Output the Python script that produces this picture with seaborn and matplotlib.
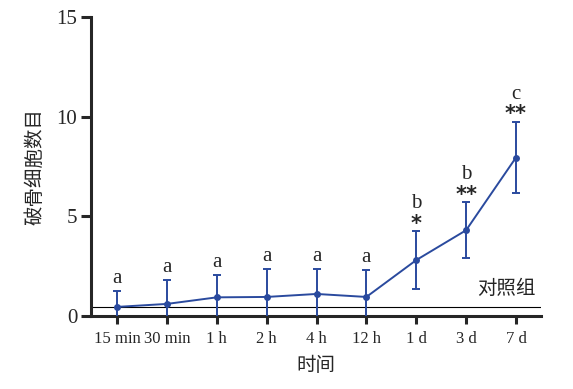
import matplotlib
matplotlib.use("Agg")
import matplotlib.pyplot as plt
import seaborn as sns
import pandas as pd
import numpy as np

# data
time_labels = ["15 min", "30 min", "1 h", "2 h", "4 h", "12 h", "1 d", "3 d", "7 d"]
mean_counts = [0.45, 0.6, 0.93, 0.95, 1.1, 0.95, 2.8, 4.3, 7.95]
sd_counts = [0.8, 1.2, 1.1, 1.4, 1.25, 1.35, 1.45, 1.4, 1.8]
letters = ["a", "a", "a", "a", "a", "a", "b", "b", "c"]
stars = ["", "", "", "", "", "", "*", "**", "**"]
control_level = 0.45

sns.set_theme(style="ticks")
plt.rcParams['font.family'] = ['Liberation Serif', 'Noto Sans CJK SC']
plt.rcParams['axes.linewidth'] = 2.2

df = pd.DataFrame({"pos": np.arange(len(time_labels)), "mean": mean_counts, "sd": sd_counts})
blue = "#2a4a9e"
cjk = ['Noto Sans CJK SC']

fig = plt.figure(figsize=(5.73, 3.89), dpi=100)
ax = fig.add_axes([0.159, 0.188, 0.785, 0.768])

ax.axhline(control_level, color="black", lw=0.8, zorder=1)
sns.lineplot(data=df, x="pos", y="mean", color=blue, lw=1.4, marker="o",
             markersize=5, markeredgewidth=0, ax=ax, zorder=3)
ax.errorbar(df["pos"], df["mean"], yerr=df["sd"], fmt="none", ecolor=blue,
            elinewidth=1.4, capsize=3, capthick=1.4, zorder=3)

# significance letters and stars
for i, (m, s) in enumerate(zip(mean_counts, sd_counts)):
    top = m + s
    if stars[i]:
        ax.text(i, top + 0.08, stars[i], ha="center", va="baseline",
                fontsize=15, fontweight="bold", family="DejaVu Sans")
        ax.text(i, top + 1.15, letters[i], ha="center", va="baseline", fontsize=15)
    else:
        ax.text(i, top + 0.42, letters[i], ha="center", va="baseline", fontsize=15)

ax.text(8.4, control_level + 0.4, "对照组", ha="right", va="bottom",
        fontsize=14, family=cjk, color="#222222")

ax.set_xlim(-0.52, 8.5)
ax.set_ylim(0, 15)
ax.set_xticks(df["pos"])
ax.set_xticklabels(time_labels, fontsize=12)
ax.set_yticks([0, 5, 10, 15])
ax.tick_params(axis="y", labelsize=15, length=7, width=2.2, pad=3)
ax.tick_params(axis="x", length=6, width=2.2, pad=5)
ax.set_xlabel("时间", fontsize=14, family=cjk, labelpad=6)
ax.set_ylabel("破骨细胞数目", fontsize=14, family=cjk, labelpad=8)
sns.despine(ax=ax)

fig.savefig("out.png", dpi=100)
